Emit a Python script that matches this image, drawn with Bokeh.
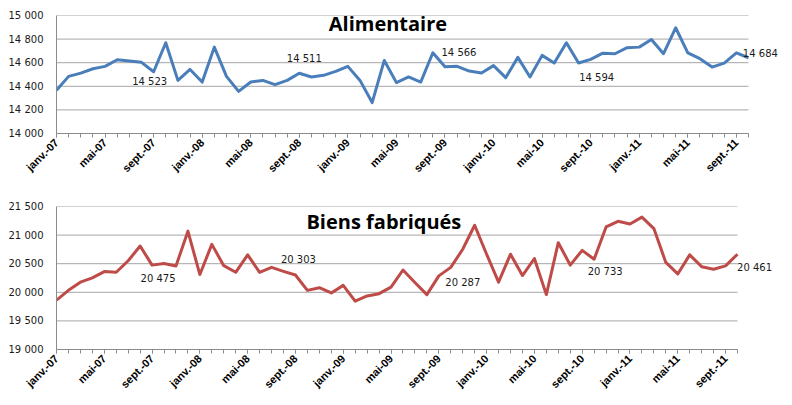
from math import pi
from bokeh.plotting import figure
from bokeh.models import Range1d, FixedTicker, Label
from bokeh.layouts import column
from bokeh.embed import file_html
from bokeh.resources import INLINE

# ---------------- data ----------------
month_tick_labels = ["janv.-07", "mai-07", "sept.-07", "janv.-08", "mai-08", "sept.-08",
                     "janv.-09", "mai-09", "sept.-09", "janv.-10", "mai-10", "sept.-10",
                     "janv.-11", "mai-11", "sept.-11"]

alimentaire = [14366, 14484, 14512, 14549, 14569, 14625, 14614, 14603, 14523, 14769,
               14450, 14543, 14436, 14732, 14484, 14357, 14436, 14450, 14414, 14450,
               14511, 14479, 14493, 14526, 14569, 14450, 14262, 14619, 14431, 14479,
               14436, 14684, 14566, 14569, 14529, 14512, 14575, 14473, 14645, 14479,
               14662, 14597, 14769, 14597, 14628, 14681, 14676, 14727, 14732, 14797,
               14676, 14896, 14684, 14634, 14563, 14597, 14684, 14642]

biens_fabriques = [19862, 20034, 20177, 20252, 20362, 20350, 20551, 20810, 20475, 20505,
                   20459, 21069, 20310, 20838, 20466, 20350, 20655, 20350, 20436, 20367,
                   20303, 20034, 20080, 19988, 20121, 19845, 19936, 19976, 20091, 20390,
                   20172, 19960, 20287, 20436, 20752, 21172, 20666, 20177, 20666, 20293,
                   20591, 19959, 20867, 20476, 20733, 20579, 21143, 21241, 21195, 21315,
                   21114, 20522, 20321, 20655, 20448, 20402, 20461, 20666]

label_idx = [8, 20, 32, 44, 56]
alim_label_text = ["14 523", "14 511", "14 566", "14 594", "14 684"]
biens_label_text = ["20 475", "20 303", "20 287", "20 733", "20 461"]

alim_yticks = [14000, 14200, 14400, 14600, 14800, 15000]
alim_ytick_labels = ["14 000", "14 200", "14 400", "14 600", "14 800", "15 000"]
biens_yticks = [19000, 19500, 20000, 20500, 21000, 21500]
biens_ytick_labels = ["19 000", "19 500", "20 000", "20 500", "21 000", "21 500"]

TOTAL_W = 776
TICK_FONT = "DejaVu Sans"
XLAB_FONT = "Liberation Sans"
TITLE_FONT = "Open Sans"
GRID_COLOR = "#a6a6a6"
AXIS_COLOR = "#8c8c8c"


def make_chart(vals, color, title, yticks, yticklabels, ltext, loffs,
               height, b_top, b_left, data_w, frame_h, title_x, title_y):
    n = len(vals)
    xs = list(range(n))
    frame_w = TOTAL_W - b_left          # frame reaches the right edge so that labels are not clipped
    x_end = (n - 1) * frame_w / data_w  # data itself occupies data_w pixels
    p = figure(width=TOTAL_W, height=height, output_backend="svg", toolbar_location=None,
               x_range=Range1d(0, x_end), y_range=Range1d(yticks[0], yticks[-1]),
               min_border_left=b_left, min_border_top=b_top, min_border_right=0,
               min_border_bottom=height - b_top - frame_h)
    p.frame_width = frame_w
    p.frame_height = frame_h
    p.outline_line_color = None
    p.background_fill_color = "white"
    p.border_fill_color = "white"

    # grid (limited to the data extent)
    p.xgrid.visible = False
    p.ygrid.visible = False
    k = len(yticks)
    p.segment(x0=[0] * k, y0=yticks, x1=[n - 1] * k, y1=yticks,
              line_color=GRID_COLOR, line_width=1)

    # y axis
    ya = p.yaxis[0]
    ya.ticker = FixedTicker(ticks=yticks)
    ya.major_label_overrides = {t: s for t, s in zip(yticks, yticklabels)}
    ya.axis_line_color = AXIS_COLOR
    ya.major_tick_line_color = None
    ya.minor_tick_line_color = None
    ya.major_label_text_font = TICK_FONT
    ya.major_label_text_font_size = "10px"
    ya.major_label_text_color = "#1a1a1a"
    ya.major_label_standoff = 7

    # x axis
    xa = p.xaxis[0]
    major = list(range(0, n - 1, 4))
    xa.bounds = (0, n - 1)
    xa.ticker = FixedTicker(ticks=major, minor_ticks=xs)
    xa.major_label_overrides = {t: s for t, s in zip(major, month_tick_labels)}
    xa.axis_line_color = AXIS_COLOR
    xa.major_tick_line_color = AXIS_COLOR
    xa.minor_tick_line_color = AXIS_COLOR
    xa.major_tick_in = 0
    xa.major_tick_out = 4
    xa.minor_tick_in = 0
    xa.minor_tick_out = 4
    xa.major_label_orientation = pi / 4
    xa.major_label_text_font = XLAB_FONT
    xa.major_label_text_font_style = "bold"
    xa.major_label_text_font_size = "11px"
    xa.major_label_text_color = "#000000"
    xa.major_label_standoff = 3

    p.line(xs, vals, line_color=color, line_width=3, line_join="round")

    for i, txt, (dx, dy) in zip(label_idx, ltext, loffs):
        p.add_layout(Label(x=i, y=vals[i], text=txt, x_offset=dx, y_offset=-dy,
                           text_align="center", text_baseline="middle",
                           text_font=TICK_FONT, text_font_size="10px",
                           text_color="#1a1a1a"))

    p.add_layout(Label(x=title_x, y=title_y, text=title, text_align="center",
                       text_baseline="middle", text_font=TITLE_FONT, text_font_style="bold",
                       text_font_size="20px", text_color="#000000"))
    return p


top = make_chart(alimentaire, "#4a7ebb", "Alimentaire", alim_yticks, alim_ytick_labels,
                 alim_label_text, [(-4, 10), (5, -15), (14, -14), (6, 18), (24, 1)],
                 height=188, b_top=15, b_left=48, data_w=692, frame_h=118,
                 title_x=27.3, title_y=14936)

bottom = make_chart(biens_fabriques, "#be4b48", "Biens fabriqués", biens_yticks, biens_ytick_labels,
                    biens_label_text, [(6, 13), (3, -15), (24, 7), (23, 21), (29, 2)],
                    height=209, b_top=18, b_left=56, data_w=681, frame_h=143,
                    title_x=27.4, title_y=21240)

layout = column(top, bottom, spacing=0)

open("out.html", "w").write(file_html(layout, INLINE))
